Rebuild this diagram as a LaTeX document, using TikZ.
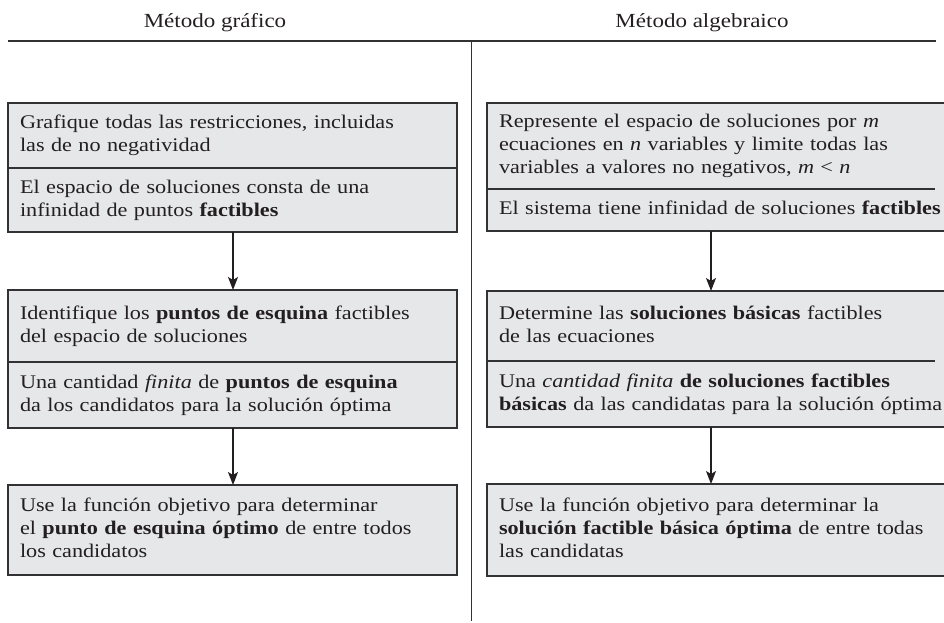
\documentclass[tikz,border=0pt]{standalone}
\usepackage{fontspec}
\setmainfont{Liberation Serif}[FakeStretch=1.15]
\usetikzlibrary{positioning}
\usetikzlibrary{arrows.meta}
\definecolor{fondo}{RGB}{230,231,232}
\definecolor{trazo}{RGB}{50,50,52}
\definecolor{tinta}{RGB}{35,31,32}
\tikzset{
    parte/.style = {rectangle, fill=fondo, anchor=north west, text=tinta,
        inner xsep=12pt, inner ysep=0pt, outer sep=0pt, align=left,
        font=\fontsize{19.3}{23}\selectfont},
    izq/.style = {parte, text width=425pt},
    der/.style = {parte, text width=449pt},
    cabeza/.style = {anchor=base, text=tinta, font=\fontsize{20}{24}\selectfont},
    borde/.style = {draw=trazo, line width=1.2pt},
    flecha/.style = {-{Stealth[length=13pt,width=10pt,inset=3pt]}, line width=1.3pt, draw=tinta}}

\begin{document}
\begin{tikzpicture}[x=1pt, y=-1pt]
    \path[use as bounding box] (0,0) rectangle (944,622);
    % titles and frame lines
    \node (tizq) [cabeza] at (215,27.5) {Método gráfico};
    \node (tder) [cabeza] at (702,27.5) {Método algebraico};
    \coordinate (hl) at (8,41);
    \coordinate (hr) at (936,41);
    \coordinate (vt) at (471,41);
    \coordinate (vb) at (471,621);
    \draw[line width=1.5pt, draw=trazo] (hl) -- (hr);
    \draw[line width=1pt, draw=trazo] (vt) -- (vb);
    % left column
    \node (g1a) [izq, minimum height=65pt] at (8,103)
        {\strut Grafique todas las restricciones, incluidas\\ las de no negatividad\strut};
    \node (g1b) [izq, minimum height=64pt, below=0pt of g1a]
        {\strut El espacio de soluciones consta de una\\ infinidad de puntos \textbf{factibles}\strut};
    \node (g2a) [izq, minimum height=72pt, below=58pt of g1b]
        {\strut Identifique los \textbf{puntos de esquina} factibles\\ del espacio de soluciones\strut};
    \node (g2b) [izq, minimum height=66pt, below=0pt of g2a]
        {\strut Una cantidad \textit{finita} de \textbf{puntos de esquina}\\ da los candidatos para la solución óptima\strut};
    \node (g3) [izq, minimum height=90pt, below=57pt of g2b]
        {\strut Use la función objetivo para determinar\\ el \textbf{punto de esquina óptimo} de entre todos\\ los candidatos\strut};
    % right column
    \node (a1a) [der, minimum height=86pt] at (487,103)
        {\strut Represente el espacio de soluciones por \textit{m}\\ ecuaciones en \textit{n} variables y limite todas las\\ variables a valores no negativos, \textit{m} < \textit{n}\strut};
    \node (a1b) [der, minimum height=42pt, below=0pt of a1a]
        {\strut El sistema tiene infinidad de soluciones \textbf{factibles}\strut};
    \node (a2a) [der, minimum height=70pt, below=60pt of a1b]
        {\strut Determine las \textbf{soluciones básicas} factibles\\ de las ecuaciones\strut};
    \node (a2b) [der, minimum height=66pt, below=0pt of a2a]
        {\strut Una \textit{cantidad finita} \textbf{de soluciones factibles}\\ \textbf{básicas} da las candidatas para la solución óptima\strut};
    \node (a3) [der, minimum height=92pt, below=57pt of a2b]
        {\strut Use la función objetivo para determinar la\\ \textbf{solución factible básica óptima} de entre todas\\ las candidatas\strut};
    % borders
    \draw[borde] (g1a.north west) rectangle (g1b.south east);
    \draw[borde] (g1b.north west) -- (g1b.north east);
    \draw[borde] (g2a.north west) rectangle (g2b.south east);
    \draw[borde] (g2b.north west) -- (g2b.north east);
    \draw[borde] (g3.north west) rectangle (g3.south east);
    \coordinate (finD) at (935,0);
    \draw[borde] (a1a.north west) rectangle (a1b.south east);
    \draw[borde] (a1b.north west) -- (a1b.north west -| finD);
    \draw[borde] (a2a.north west) rectangle (a2b.south east);
    \draw[borde] (a2b.north west) -- (a2b.north west -| finD);
    \draw[borde] (a3.north west) rectangle (a3.south east);
    % arrows
    \coordinate (ejeI) at (233,0);
    \coordinate (ejeD) at (711,0);
    \draw[flecha] (g1b.south -| ejeI) -- (g2a.north -| ejeI);
    \draw[flecha] (g2b.south -| ejeI) -- (g3.north -| ejeI);
    \draw[flecha] (a1b.south -| ejeD) -- (a2a.north -| ejeD);
    \draw[flecha] (a2b.south -| ejeD) -- (a3.north -| ejeD);
\end{tikzpicture}
\end{document}
